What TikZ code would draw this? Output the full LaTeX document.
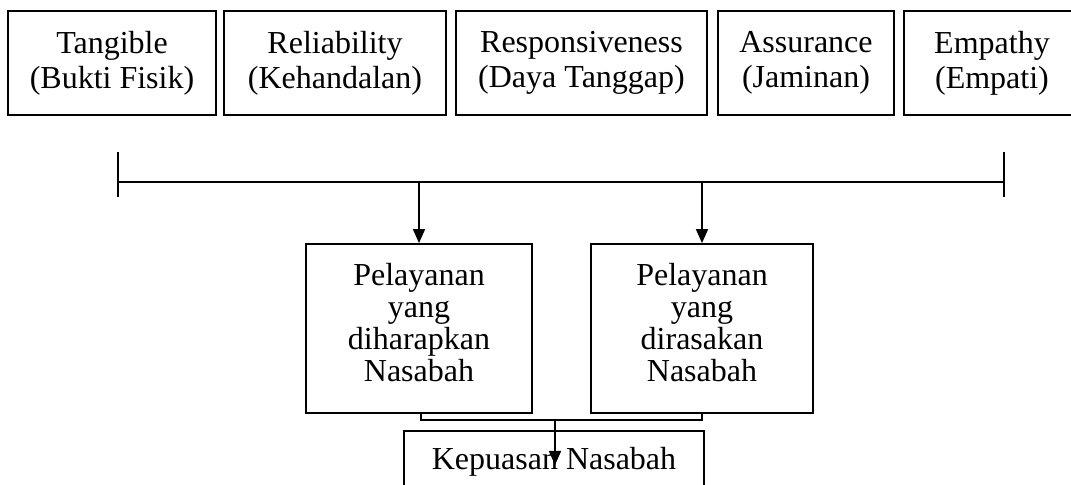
\documentclass[tikz,border=0pt]{standalone}
\usepackage{fontspec}
\setmainfont{Liberation Serif}
\usetikzlibrary{arrows.meta}
\begin{document}
\begin{tikzpicture}[x=0.5pt,y=-0.5pt,
  box/.style={draw, line width=0.9pt, rectangle, align=center, inner sep=0pt},
  topbox/.style={box, minimum height=52pt, font=\fontsize{16}{17.5}\selectfont},
  midbox/.style={box, minimum height=84.5pt},
  midtext/.style={align=center, inner sep=0pt, yshift=3pt, font=\fontsize{16}{16}\selectfont},
  conn/.style={line width=0.8pt},
  arr/.style={conn, -{Triangle[length=7pt,width=6pt]}}
]
\useasboundingbox (0,0) rectangle (1071,485);
% top boxes
\node[topbox, minimum width=104pt] (t1) at (112,63) {Tangible\\(Bukti Fisik)};
\node[topbox, minimum width=111pt] (t2) at (335,63) {Reliability\\(Kehandalan)};
\node[topbox, minimum width=125.5pt] (t3) at (581.5,63) {Responsiveness\\(Daya Tanggap)};
\node[topbox, minimum width=88pt] (t4) at (806,63) {Assurance\\(Jaminan)};
\node[topbox, minimum width=88pt] (t5) at (992,63) {Empathy\\(Empati)};
% horizontal bracket line
\coordinate (hl) at (118,182);
\coordinate (hr) at (1004,182);
\coordinate (hlt) at (118,152);
\coordinate (hlb) at (118,197);
\coordinate (hrt) at (1004,152);
\coordinate (hrb) at (1004,197);
\draw[conn] (hl) -- (hr);
\draw[conn] (hlt) -- (hlb);
\draw[conn] (hrt) -- (hrb);
% middle boxes
\node[midbox, minimum width=113pt, label={[midtext]center:{Pelayanan\\yang\\diharapkan\\Nasabah}}] (m1) at (419,328.5) {};
\node[midbox, minimum width=111pt, label={[midtext]center:{Pelayanan\\yang\\dirasakan\\Nasabah}}] (m2) at (702,328.5) {};
\draw[arr] (m1.north |- hl) -- (m1.north);
\draw[arr] (m2.north |- hl) -- (m2.north);
% bottom box
\node[box, minimum width=150pt, minimum height=31pt, font=\fontsize{16}{16}\selectfont] (k) at (554,462) {Kepuasan Nasabah};
% bottom connector
\coordinate (bl) at (421,420);
\coordinate (br) at (702,420);
\coordinate (bm) at (555,420);
\coordinate (bt) at (555,465);
\draw[conn] (m1.south -| bl) -- (bl) -- (br) -- (m2.south -| br);
\draw[arr] (bm) -- (bt);
\end{tikzpicture}
\end{document}
